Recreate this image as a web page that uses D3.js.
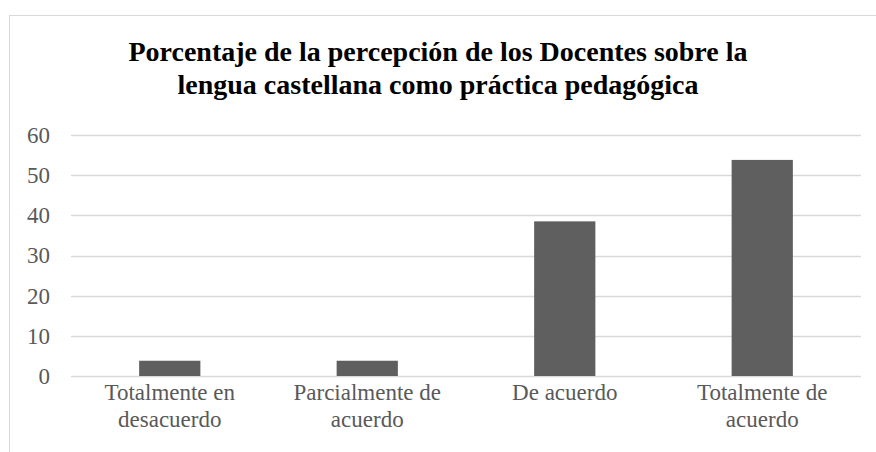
<!DOCTYPE html>
<html>
<head>
<meta charset="utf-8">
<script src="https://cdn.jsdelivr.net/npm/d3@7"></script>
</head>
<body style="margin:0">
<script>
let categories = [["Totalmente en", "desacuerdo"], ["Parcialmente de", "acuerdo"], ["De acuerdo"], ["Totalmente de", "acuerdo"]]
let values = [3.8, 3.8, 38.5, 53.8]
let yTicks = [0, 10, 20, 30, 40, 50, 60]
let titleLines = ["Porcentaje de la percepción de los Docentes sobre la", "lengua castellana como práctica pedagógica"]

let w = 876, h = 452
let plotLeft = 71, plotRight = 861, plotTop = 135, plotBottom = 376
let fontName = "'Liberation Serif', Tinos, 'Times New Roman', serif"

let svg = d3.select("body").append("svg")
    .attr("width", w)
    .attr("height", h)
    .attr("font-family", fontName)
    .style("display", "block")

// chart area border (right/bottom run off the picture)
svg.append("rect")
    .attr("x", 9.5).attr("y", 15.5)
    .attr("width", w + 10).attr("height", h + 10)
    .attr("fill", "none")
    .attr("stroke", "#d9d9d9")

let x = d3.scaleBand()
    .domain(d3.range(categories.length))
    .range([plotLeft, plotRight])
    .paddingInner(0.69)
    .paddingOuter(0.345)

let y = d3.scaleLinear().domain([0, 60]).range([plotBottom, plotTop])

svg.selectAll(".grid")
    .data(yTicks)
    .enter().append("line")
    .attr("class", "grid")
    .attr("x1", plotLeft).attr("x2", plotRight)
    .attr("y1", d => Math.round(y(d)) + 0.5)
    .attr("y2", d => Math.round(y(d)) + 0.5)
    .attr("stroke", "#d9d9d9")
    .attr("stroke-width", 1.5)

let yAxis = svg.append("g")
    .attr("transform", "translate(" + plotLeft + ",0)")
    .call(d3.axisLeft(y).tickValues(yTicks).tickSize(0).tickPadding(21))
yAxis.select(".domain").remove()
yAxis.attr("font-family", fontName).attr("font-size", 23)
yAxis.selectAll("text")
    .attr("fill", "#595959")
    .attr("font-family", fontName)

svg.selectAll(".bar")
    .data(values)
    .enter().append("rect")
    .attr("class", "bar")
    .attr("x", (d, i) => x(i))
    .attr("width", x.bandwidth())
    .attr("y", d => y(d))
    .attr("height", d => y(0) - y(d))
    .attr("fill", "#5f5f5f")

let xAxis = svg.append("g")
    .attr("transform", "translate(0," + plotBottom + ")")
    .call(d3.axisBottom(x).tickSize(0).tickFormat(""))
xAxis.select(".domain").remove()
xAxis.attr("font-family", fontName).attr("font-size", 23)
xAxis.selectAll(".tick").each(function(d) {
    let t = d3.select(this).append("text")
        .attr("fill", "#595959")
        .attr("text-anchor", "middle")
        .attr("font-family", fontName)
    categories[d].forEach((line, k) => {
        t.append("tspan").attr("x", 0).attr("y", 24 + k * 27).text(line)
    })
})

let title = svg.append("text")
    .attr("text-anchor", "middle")
    .attr("fill", "#000")
    .attr("font-family", fontName)
    .attr("font-size", 28)
    .attr("font-weight", "bold")
titleLines.forEach((line, k) => {
    title.append("tspan").attr("x", 438).attr("y", 61 + k * 33).text(line)
})
</script>
</body>
</html>
